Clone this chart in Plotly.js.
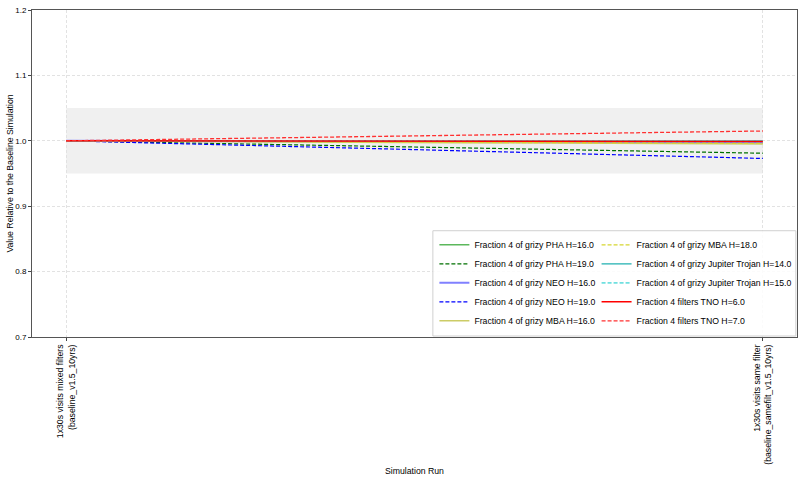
<!DOCTYPE html>
<html>
<head>
<meta charset="utf-8">
<script src="https://cdn.plot.ly/plotly-3.0.1.min.js"></script>
<style>
  body { margin: 0; background: #fff; }
  #chart { width: 806px; height: 483px; }
</style>
</head>
<body>
<div id="chart"></div>
<script>
// two runs compared against the baseline
var runs = [0, 1];
var runLabels = [
  "1x30s visits mixed filters<br>(baseline_v1.5_10yrs)",
  "1x30s visits same filter<br>(baseline_samefilt_v1.5_10yrs)"
];

var phaH16 = [1.0, 0.998];
var phaH19 = [1.0, 0.981];
var neoH16 = [1.0, 0.997];
var neoH19 = [1.0, 0.973];
var mbaH16 = [1.0, 0.995];
var mbaH18 = [1.0, 0.996];
var jtH14 = [1.0, 1.0];
var jtH15 = [1.0, 0.999];
var tnoH6 = [1.0, 0.999];
var tnoH7 = [1.0, 1.015];

function line(name, y, color, dash, width, legend) {
  return {
    x: runs,
    y: y,
    mode: "lines",
    name: name,
    legend: legend,
    line: { color: color, dash: dash, width: width },
  };
}

var dashed = "4px,2px";
var traces = [
  line("Fraction 4 of grizy PHA H=16.0", phaH16, "#5cb85c", "solid", 1.5, "legend"),
  line("Fraction 4 of grizy PHA H=19.0", phaH19, "#007000", dashed, 1.2, "legend"),
  line("Fraction 4 of grizy NEO H=16.0", neoH16, "#8080ff", "solid", 2, "legend"),
  line("Fraction 4 of grizy NEO H=19.0", neoH19, "#0000ff", dashed, 1.2, "legend"),
  line("Fraction 4 of grizy MBA H=16.0", mbaH16, "#cccc66", "solid", 1.5, "legend"),
  line("Fraction 4 of grizy MBA H=18.0", mbaH18, "#d6d630", dashed, 1.3, "legend2"),
  line("Fraction 4 of grizy Jupiter Trojan H=14.0", jtH14, "#20b0b0", "solid", 1.3, "legend2"),
  line("Fraction 4 of grizy Jupiter Trojan H=15.0", jtH15, "#70e0e0", dashed, 1.6, "legend2"),
  line("Fraction 4 filters TNO H=6.0", tnoH6, "#ff0000", "solid", 1.5, "legend2"),
  line("Fraction 4 filters TNO H=7.0", tnoH7, "#ff3030", dashed, 1.3, "legend2"),
];

var legendBase = {
  orientation: "v",
  y: 0.005,
  yanchor: "bottom",
  xanchor: "left",
  bgcolor: "rgba(0,0,0,0)",
  borderwidth: 0,
  itemwidth: 30,
  font: { size: 8.7 },
};

var layout = {
  width: 806,
  height: 483,
  margin: { l: 32, r: 9, t: 10, b: 146, autoexpand: false },
  paper_bgcolor: "#fff",
  plot_bgcolor: "#fff",
  font: { family: "Liberation Sans, Arial, sans-serif", size: 8.7, color: "#000" },
  showlegend: true,
  legend: Object.assign({}, legendBase, { x: 0.526 }),
  legend2: Object.assign({}, legendBase, { x: 0.738 }),
  xaxis: {
    range: [-0.049, 1.049],
    tickvals: runs,
    ticktext: runLabels,
    tickangle: -90,
    ticks: "outside",
    ticklen: 3,
    showgrid: true,
    gridcolor: "#e2e2e2",
    griddash: "3px,2px",
    zeroline: false,
    showline: true,
    linecolor: "#555",
    mirror: true,
    tickfont: { size: 8.7 },
    title: { text: "Simulation Run", font: { size: 8.7 }, standoff: 4 },
  },
  yaxis: {
    range: [0.7, 1.2],
    dtick: 0.1,
    tickformat: ".1f",
    ticks: "outside",
    ticklen: 3,
    showgrid: true,
    gridcolor: "#e2e2e2",
    griddash: "3px,2px",
    zeroline: false,
    showline: true,
    linecolor: "#555",
    mirror: true,
    tickfont: { size: 8 },
    title: { text: "Value Relative to the Baseline Simulation", font: { size: 8.7 }, standoff: 0 },
  },
  shapes: [
    {
      type: "rect",
      xref: "x",
      yref: "y",
      x0: 0,
      x1: 1,
      y0: 0.95,
      y1: 1.05,
      fillcolor: "#f0f0f0",
      line: { width: 0 },
      layer: "below",
    },
    {
      // legend frame around both columns
      type: "rect",
      xref: "paper",
      yref: "paper",
      x0: 0.524,
      x1: 0.9985,
      y0: 0.003,
      y1: 0.325,
      fillcolor: "rgba(255,255,255,0.85)",
      line: { color: "#d0d0d0", width: 1 },
      layer: "above",
    },
  ],
};

Plotly.newPlot("chart", traces, layout, { displayModeBar: false, staticPlot: true });
</script>
</body>
</html>
